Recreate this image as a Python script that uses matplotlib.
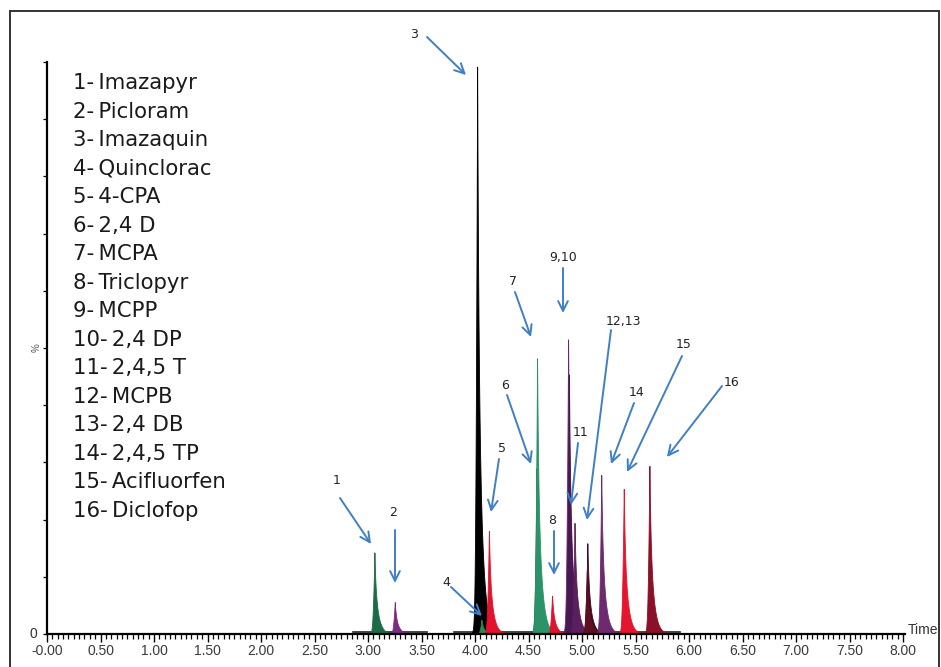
import numpy as np
import matplotlib
matplotlib.use("Agg")
import matplotlib.pyplot as plt
from matplotlib.patches import Rectangle
from matplotlib.ticker import MultipleLocator, FixedLocator, FixedFormatter

# ---------------- data ----------------
compounds = ["Imazapyr", "Picloram", "Imazaquin", "Quinclorac", "4-CPA", "2,4 D",
             "MCPA", "Triclopyr", "MCPP", "2,4 DP", "2,4,5 T", "MCPB", "2,4 DB",
             "2,4,5 TP", "Acifluorfen", "Diclofop"]
peak_times = [3.06, 3.25, 4.02, 4.06, 4.13, 4.575, 4.58, 4.72, 4.87, 4.878,
              4.93, 5.05, 5.045, 5.18, 5.39, 5.63]
peak_heights = [14.3, 5.6, 100.0, 2.5, 18.2, 29.0, 48.8, 6.8, 52.0, 45.8,
                19.6, 16.0, 11.0, 28.0, 25.5, 29.5]
peak_colors = ["#1d6b45", "#7d2b80", "#000000", "#2a8a4a", "#e3122d", "#0d4f2c",
               "#2a9468", "#e0122e", "#6e2372", "#4a1850", "#5b1e5f", "#3c0a18",
               "#5e0f22", "#6d2a6e", "#e5142f", "#8c1027"]
baseline_ranges = [(2.86, 3.55), (3.80, 5.92)]

x_tick_values = [0.0, 0.5, 1.0, 1.5, 2.0, 2.5, 3.0, 3.5, 4.0, 4.5, 5.0, 5.5, 6.0, 6.5, 7.0, 7.5, 8.0]
x_tick_labels = ["-0.00", "0.50", "1.00", "1.50", "2.00", "2.50", "3.00", "3.50", "4.00",
                 "4.50", "5.00", "5.50", "6.00", "6.50", "7.00", "7.50", "8.00"]

# annotation labels: text position, arrow start, arrow tip (figure pixels from top-left)
ann_texts = ["1", "2", "3", "4", "5", "6", "7", "8", "9,10", "11", "12,13", "14", "15", "16"]
ann_text_pos = [(337, 480), (393, 512), (414, 34), (446, 582), (502, 448), (505, 385),
                (513, 281), (552, 520), (563, 257), (581, 433), (623, 321), (637, 392),
                (684, 345), (732, 383)]
ann_start = [(340, 498), (395, 530), (427, 37), (451, 587), (499, 459), (507, 395),
             (515, 292), (554, 531), (563, 268), (578, 443), (611, 330), (634, 403),
             (682, 356), (722, 386)]
ann_tip = [(371, 544), (395, 583), (466, 75), (482, 616), (491, 512), (531, 464),
           (531, 337), (554, 575), (563, 313), (571, 505), (587, 520), (611, 464),
           (627, 472), (667, 457)]

W, H = 941, 667

# ---------------- figure ----------------
fig = plt.figure(figsize=(W / 100, H / 100), dpi=100)
fig.patch.set_facecolor("white")

x0_px, x1_px = 47, 905
y0_px, y1_px = 634, 62
px_per_min = 107.0
ax = fig.add_axes([x0_px / W, (H - y0_px) / H, (x1_px - x0_px) / W, (y0_px - y1_px) / H])
ax.set_xlim(0, (x1_px - x0_px) / px_per_min)
ax.set_ylim(0, 100)
ax.set_facecolor("none")


def peak_profile(t, c, h):
    left = 0.6 * np.exp(-(c - t) / 0.009) + 0.4 * np.exp(-0.5 * ((c - t) / 0.012) ** 2)
    right = 0.35 * np.exp(-(t - c) / 0.01) + 0.65 * np.exp(-(t - c) / 0.035)
    return h * np.where(t < c, left, right)


t = np.linspace(2.8, 6.0, 8000)
for c, h, col in zip(peak_times, peak_heights, peak_colors):
    y = peak_profile(t, c, h)
    mask = y > 0.05
    ax.fill_between(t[mask], 0, y[mask], color=col, linewidth=0.6, edgecolor=col,
                    clip_on=False, zorder=2)

for a, b in baseline_ranges:
    ax.plot([a, b], [0.35, 0.35], color="#222222", lw=1.2, zorder=1.5)

for s in ["top", "right"]:
    ax.spines[s].set_visible(False)
ax.spines["left"].set_linewidth(1.6)
ax.spines["bottom"].set_linewidth(1.6)

ax.xaxis.set_major_locator(FixedLocator(x_tick_values))
ax.xaxis.set_major_formatter(FixedFormatter(x_tick_labels))
ax.xaxis.set_minor_locator(MultipleLocator(0.05))
ax.tick_params(axis="x", which="major", direction="out", length=6, width=1.0,
               labelsize=10, labelcolor="#3a3a3a", pad=1)
ax.tick_params(axis="x", which="minor", direction="out", length=3.5, width=0.9)
for lab in ax.get_xticklabels():
    lab.set_family("Liberation Sans")

ax.yaxis.set_major_locator(MultipleLocator(10))
ax.tick_params(axis="y", which="major", direction="out", length=3, width=0.9,
               labelleft=False)

fig.text(33 / W, 1 - 634 / H, "0", ha="center", va="center", fontsize=10,
         color="#333333", family="Liberation Sans")
fig.text(37 / W, 1 - 348 / H, "%", ha="center", va="center", fontsize=7,
         color="#555555", rotation=90, family="Liberation Sans")
fig.text(908 / W, 1 - 630 / H, "Time", ha="left", va="center", fontsize=10,
         color="#333333", family="Liberation Sans")

# legend list
base0 = 89
step = 28.53
for i, name in enumerate(compounds):
    fig.text(73 / W, 1 - (base0 + i * step) / H, f"{i + 1}-\u2009{name}", ha="left",
             va="baseline", fontsize=15.3, color="#1a1a1a", family="DejaVu Sans")

# annotations
arrow_col = "#3f7fc8"
for txt, tp, st, tip in zip(ann_texts, ann_text_pos, ann_start, ann_tip):
    fig.text(tp[0] / W, 1 - tp[1] / H, txt, ha="center", va="center", fontsize=9,
             color="#222222", family="DejaVu Sans")
    ax.annotate("", xy=(tip[0], H - tip[1]), xycoords="figure pixels",
                xytext=(st[0], H - st[1]), textcoords="figure pixels",
                arrowprops=dict(arrowstyle="->,head_length=0.7,head_width=0.35",
                                color=arrow_col, lw=1.4, shrinkA=0, shrinkB=0),
                annotation_clip=False)

# outer frame
fig.patches.append(Rectangle((10 / W, -0.05), 929 / W, 1.05 - 11 / H,
                             transform=fig.transFigure, fill=False,
                             edgecolor="#333333", linewidth=1.4))

fig.savefig("out.png", dpi=100, facecolor="white")
